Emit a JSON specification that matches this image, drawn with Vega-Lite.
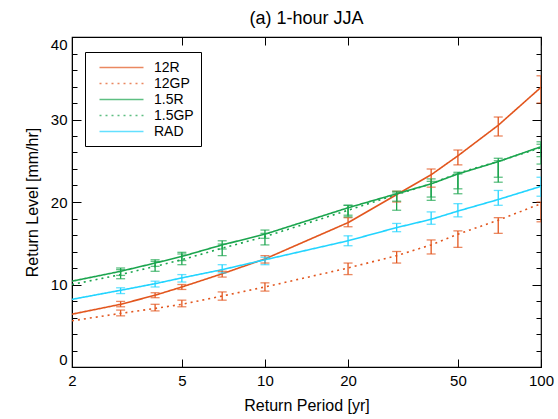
{
  "$schema": "https://vega.github.io/schema/vega-lite/v6.json",
  "autosize": "none",
  "width": 469,
  "height": 330,
  "padding": {"left": 72, "top": 37, "right": 17, "bottom": 52},
  "background": "white",
  "title": {"text": "(a) 1-hour JJA", "font": "Liberation Sans", "fontSize": 18, "fontWeight": "normal", "color": "black", "offset": 9, "anchor": "middle"},
  "config": {
    "view": {"stroke": "black", "strokeWidth": 1.2},
    "font": "Liberation Sans",
    "axis": {"labelFont": "Liberation Sans", "titleFont": "Liberation Sans", "labelFontSize": 15, "titleFontSize": 16, "titleFontWeight": "normal", "labelColor": "black", "titleColor": "black", "tickColor": "black", "domainColor": "black", "grid": false},
    "legend": {"title": null, "orient": "none", "legendX": 13, "legendY": 15, "symbolType": "M-3,0L3,0", "symbolSize": 215, "symbolStrokeWidth": 1.6,
               "labelFont": "Liberation Sans", "labelFontSize": 14, "labelColor": "black", "strokeColor": "black", "padding": 7, "rowPadding": -3,
               "labelOffset": 24, "symbolOffset": 21, "fillColor": "white"}
  },
  "data": {"values": [
    {"s": "12R", "x": 2, "y": 6.4, "lo": null, "hi": null},
    {"s": "12R", "x": 3, "y": 7.6, "lo": 7.3, "hi": 7.95},
    {"s": "12R", "x": 4, "y": 8.7, "lo": 8.4, "hi": 9.0},
    {"s": "12R", "x": 5, "y": 9.7, "lo": 9.4, "hi": 10.0},
    {"s": "12R", "x": 7, "y": 11.3, "lo": 10.9, "hi": 11.6},
    {"s": "12R", "x": 10, "y": 13.1, "lo": 12.6, "hi": 13.5},
    {"s": "12R", "x": 20, "y": 17.5, "lo": 17.0, "hi": 18.1},
    {"s": "12R", "x": 30, "y": 20.9, "lo": 20.0, "hi": 21.3},
    {"s": "12R", "x": 40, "y": 23.3, "lo": 21.8, "hi": 24.0},
    {"s": "12R", "x": 50, "y": 25.6, "lo": 24.5, "hi": 26.3},
    {"s": "12R", "x": 70, "y": 29.3, "lo": 28.0, "hi": 30.3},
    {"s": "12R", "x": 100, "y": 33.9, "lo": 32.0, "hi": 35.3},
    {"s": "12GP", "x": 2, "y": 5.6, "lo": null, "hi": null},
    {"s": "12GP", "x": 3, "y": 6.5, "lo": 6.2, "hi": 6.9},
    {"s": "12GP", "x": 4, "y": 7.1, "lo": 6.8, "hi": 7.6},
    {"s": "12GP", "x": 5, "y": 7.6, "lo": 7.3, "hi": 8.1},
    {"s": "12GP", "x": 7, "y": 8.6, "lo": 8.1, "hi": 9.1},
    {"s": "12GP", "x": 10, "y": 9.7, "lo": 9.2, "hi": 10.2},
    {"s": "12GP", "x": 20, "y": 12.0, "lo": 11.2, "hi": 12.6},
    {"s": "12GP", "x": 30, "y": 13.5, "lo": 12.6, "hi": 14.0},
    {"s": "12GP", "x": 40, "y": 14.8, "lo": 13.7, "hi": 15.4},
    {"s": "12GP", "x": 50, "y": 16.1, "lo": 14.5, "hi": 16.5},
    {"s": "12GP", "x": 70, "y": 17.8, "lo": 16.2, "hi": 18.1},
    {"s": "12GP", "x": 100, "y": 19.8, "lo": 17.6, "hi": 20.0},
    {"s": "1.5R", "x": 2, "y": 10.4, "lo": null, "hi": null},
    {"s": "1.5R", "x": 3, "y": 11.6, "lo": 11.1, "hi": 12.0},
    {"s": "1.5R", "x": 4, "y": 12.6, "lo": 12.2, "hi": 13.0},
    {"s": "1.5R", "x": 5, "y": 13.4, "lo": 12.9, "hi": 13.9},
    {"s": "1.5R", "x": 7, "y": 14.8, "lo": 14.3, "hi": 15.3},
    {"s": "1.5R", "x": 10, "y": 16.1, "lo": 15.6, "hi": 16.6},
    {"s": "1.5R", "x": 20, "y": 19.3, "lo": 18.4, "hi": 19.6},
    {"s": "1.5R", "x": 30, "y": 21.0, "lo": 20.1, "hi": 21.3},
    {"s": "1.5R", "x": 40, "y": 22.2, "lo": 20.2, "hi": 22.5},
    {"s": "1.5R", "x": 50, "y": 23.4, "lo": 21.6, "hi": 23.6},
    {"s": "1.5R", "x": 70, "y": 24.9, "lo": 23.0, "hi": 25.3},
    {"s": "1.5R", "x": 100, "y": 26.7, "lo": 25.5, "hi": 27.3},
    {"s": "1.5GP", "x": 2, "y": 10.0, "lo": null, "hi": null},
    {"s": "1.5GP", "x": 3, "y": 11.2, "lo": 10.7, "hi": 11.8},
    {"s": "1.5GP", "x": 4, "y": 12.2, "lo": 11.6, "hi": 12.8},
    {"s": "1.5GP", "x": 5, "y": 13.0, "lo": 12.4, "hi": 13.7},
    {"s": "1.5GP", "x": 7, "y": 14.4, "lo": 13.5, "hi": 14.9},
    {"s": "1.5GP", "x": 10, "y": 15.8, "lo": 14.8, "hi": 16.2},
    {"s": "1.5GP", "x": 20, "y": 19.0, "lo": 18.2, "hi": 19.6},
    {"s": "1.5GP", "x": 30, "y": 20.9, "lo": 19.0, "hi": 21.1},
    {"s": "1.5GP", "x": 40, "y": 22.2, "lo": 20.6, "hi": 22.8},
    {"s": "1.5GP", "x": 50, "y": 23.5, "lo": 21.0, "hi": 23.4},
    {"s": "1.5GP", "x": 70, "y": 24.9, "lo": 22.4, "hi": 25.0},
    {"s": "1.5GP", "x": 100, "y": 26.6, "lo": 24.6, "hi": 27.0},
    {"s": "RAD", "x": 2, "y": 8.2, "lo": null, "hi": null},
    {"s": "RAD", "x": 3, "y": 9.3, "lo": 8.9, "hi": 9.6},
    {"s": "RAD", "x": 4, "y": 10.1, "lo": 9.7, "hi": 10.4},
    {"s": "RAD", "x": 5, "y": 10.8, "lo": 10.3, "hi": 11.2},
    {"s": "RAD", "x": 7, "y": 11.8, "lo": 11.4, "hi": 12.4},
    {"s": "RAD", "x": 10, "y": 13.0, "lo": 12.4, "hi": 13.3},
    {"s": "RAD", "x": 20, "y": 15.3, "lo": 14.7, "hi": 15.9},
    {"s": "RAD", "x": 30, "y": 16.9, "lo": 16.4, "hi": 17.4},
    {"s": "RAD", "x": 40, "y": 17.9, "lo": 17.3, "hi": 18.8},
    {"s": "RAD", "x": 50, "y": 18.9, "lo": 18.2, "hi": 19.8},
    {"s": "RAD", "x": 70, "y": 20.3, "lo": 19.6, "hi": 21.4},
    {"s": "RAD", "x": 100, "y": 21.9, "lo": 20.7, "hi": 23.0}
  ]},
  "layer": [
    {
      "mark": {"type": "line", "strokeWidth": 1.6, "clip": true},
      "encoding": {
        "x": {"field": "x", "type": "quantitative", "scale": {"type": "log", "domain": [2, 100], "nice": false},
              "axis": {"orient": "bottom", "values": [2, 5, 10, 20, 50, 100], "tickSize": -8, "labelPadding": 14, "title": "Return Period [yr]", "titlePadding": 9, "labelFlush": false}},
        "y": {"field": "y", "type": "quantitative", "scale": {"domain": [0, 40], "nice": false},
              "axis": {"orient": "left", "values": [0,2,4,6,8,10,12,14,16,18,20,22,24,26,28,30,32,34,36,38,40],
                       "tickSize": {"condition": {"test": "datum.value % 10 === 0", "value": -9}, "value": -5},
                       "labelExpr": "datum.value % 10 === 0 ? datum.label : ''", "labelOverlap": false,
                       "labelFlush": true, "labelPadding": 14, "title": "Return Level [mm/hr]", "titlePadding": 10}},
        "color": {"field": "s", "type": "nominal",
                  "scale": {"domain": ["12R", "12GP", "1.5R", "1.5GP", "RAD"], "range": ["#E2561E", "#E2561E", "#1BA54E", "#1BA54E", "#22D4FF"]}},
        "strokeDash": {"field": "s", "type": "nominal",
                       "scale": {"domain": ["12R", "12GP", "1.5R", "1.5GP", "RAD"], "range": [[1, 0], [2, 4], [1, 0], [2, 4], [1, 0]]}}
      }
    },
    {
      "transform": [{"filter": "datum.lo != null"}],
      "mark": {"type": "rule", "strokeWidth": 1.3, "clip": true},
      "encoding": {
        "x": {"field": "x", "type": "quantitative", "axis": null},
        "y": {"field": "lo", "type": "quantitative", "axis": null},
        "y2": {"field": "hi"},
        "color": {"field": "s", "type": "nominal"}
      }
    },
    {
      "transform": [{"filter": "datum.lo != null"}, {"fold": ["lo", "hi"], "as": ["k", "v"]}],
      "mark": {"type": "tick", "orient": "horizontal", "size": 9, "thickness": 1.3, "clip": true},
      "encoding": {
        "x": {"field": "x", "type": "quantitative", "axis": null},
        "y": {"field": "v", "type": "quantitative", "axis": null},
        "color": {"field": "s", "type": "nominal"}
      }
    },
    {
      "mark": {"type": "point", "opacity": 0},
      "encoding": {
        "x": {"field": "x", "type": "quantitative",
              "axis": {"orient": "top", "values": [2, 5, 10, 20, 50, 100], "tickSize": -8, "labels": false, "title": null, "domain": false}},
        "y": {"field": "y", "type": "quantitative",
              "axis": {"orient": "right", "values": [0,2,4,6,8,10,12,14,16,18,20,22,24,26,28,30,32,34,36,38,40],
                       "tickSize": {"condition": {"test": "datum.value % 10 === 0", "value": -9}, "value": -5},
                       "labels": false, "title": null, "domain": false}}
      }
    }
  ],
  "resolve": {"axis": {"x": "independent", "y": "independent"}}
}
